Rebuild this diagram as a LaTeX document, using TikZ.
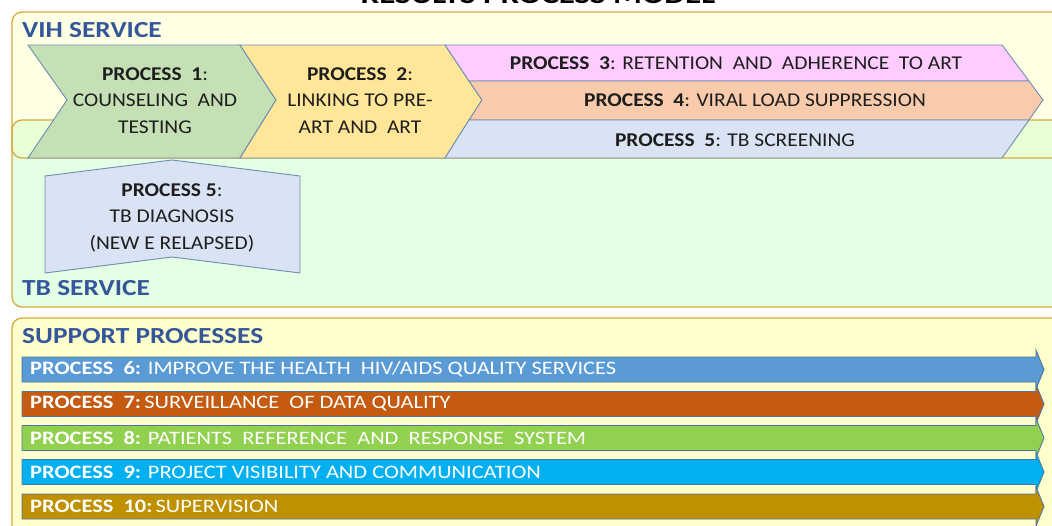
\documentclass[tikz,border=0pt]{standalone}
\usepackage{fontspec}
\setmainfont{Carlito}
\newfontfamily\procfont[FakeStretch=1.1]{Carlito}
\newfontfamily\barfont[FakeStretch=1.18]{Carlito}
\newfontfamily\headfont[FakeStretch=1.19]{Carlito}
\newfontfamily\titlefont[FakeStretch=1.27]{Carlito}
\begin{document}
\definecolor{panelgold}{HTML}{D2AA3C}
\definecolor{vihfill}{HTML}{FFFFE3}
\definecolor{tbfill}{HTML}{E5FFE5}
\definecolor{mixfill}{HTML}{E9FFD6}
\definecolor{supfill}{HTML}{FFFFCC}
\definecolor{headblue}{HTML}{34569A}
\definecolor{chevline}{HTML}{6B8DB0}
\definecolor{pone}{HTML}{C5E0B4}
\definecolor{ptwo}{HTML}{FFE699}
\definecolor{pthree}{HTML}{FFCCFF}
\definecolor{pfour}{HTML}{F8CBAD}
\definecolor{pfive}{HTML}{DAE3F3}
\definecolor{psix}{HTML}{5B9BD5}
\definecolor{pseven}{HTML}{C55A11}
\definecolor{peight}{HTML}{92D050}
\definecolor{pnine}{HTML}{00B0F0}
\definecolor{pten}{HTML}{BF9000}
\definecolor{barline}{HTML}{4E78A4}
\definecolor{ptext}{HTML}{1E1E1E}
\begin{tikzpicture}[x=1pt,y=-1pt,
  panel/.style={draw=panelgold,line width=1.3pt,rounded corners=10pt},
  chev/.style={draw=chevline,line width=0.9pt},
  bararrow/.style={draw=barline,line width=0.9pt},
  heading/.style={text=headblue,font=\headfont\fontsize{23}{27}\selectfont\bfseries,anchor=west,inner sep=0pt},
  ptxt/.style={text=ptext,font=\procfont\fontsize{19.5}{26.5}\selectfont,align=center,inner sep=0pt},
  bartxt/.style={text=white,font=\barfont\fontsize{19}{22}\selectfont,anchor=west,inner sep=0pt},
  title/.style={text=black,font=\titlefont\fontsize{26}{30}\selectfont\bfseries,anchor=base,inner sep=0pt}
]
\useasboundingbox (0,0) rectangle (1052,525);
\fill[white] (0,0) rectangle (1052,525);

% title line, mostly above the page edge
\node[title] (title) at (538,3) {RESULTS PROCESS MODEL};

% service panels
\fill[vihfill,rounded corners=10pt] (12,12) rectangle (1075,158);
\fill[tbfill,rounded corners=10pt] (12,120) rectangle (1075,307);
\begin{scope}
  \clip[rounded corners=10pt] (12,12) rectangle (1075,158);
  \fill[mixfill,rounded corners=10pt] (12,120) rectangle (1075,307);
\end{scope}
\draw[panel] (12,12) rectangle (1075,158);
\draw[panel] (12,120) rectangle (1075,307);
\fill[supfill,rounded corners=10pt] (12,318) rectangle (1075,545);
\draw[panel] (12,318) rectangle (1075,545);

\node[heading] (vih) at (22,30) {VIH SERVICE};
\node[heading] (tb) at (22,288) {TB SERVICE};
\node[heading] (sup) at (22,336) {SUPPORT PROCESSES};

% main process chevrons
\draw[chev,fill=pone] (28,45) -- (240,45) -- (276,100) -- (240,158) -- (28,158) -- (67,100) -- cycle;
\draw[chev,fill=ptwo] (240,45) -- (445,45) -- (482,100) -- (445,158) -- (240,158) -- (276,100) -- cycle;
\draw[chev,fill=pthree] (445,45) -- (1002,45) -- (1029,81) -- (469,81) -- cycle;
\draw[chev,fill=pfour] (469,81) -- (1029,81) -- (1043,100) -- (1029,120) -- (469,120) -- (482,100) -- cycle;
\draw[chev,fill=pfive] (469,120) -- (1029,120) -- (1002,158) -- (445,158) -- cycle;

\node[ptxt] (p1) at (155,100.5) {\textbf{PROCESS~ 1}:\\COUNSELING~ AND\\TESTING};
\node[ptxt] (p2) at (360,100.5) {\textbf{PROCESS~ 2}:\\LINKING TO PRE-\\ART AND~ ART};
\node[ptxt] (p3) at (736,63.5) {\textbf{PROCESS~ 3}: RETENTION~ AND~ ADHERENCE~ TO ART};
\node[ptxt] (p4) at (755,100.5) {\textbf{PROCESS~ 4}: VIRAL LOAD SUPPRESSION};
\node[ptxt] (p5) at (735,140) {\textbf{PROCESS~ 5}: TB SCREENING};

% TB diagnosis block
\draw[chev,fill=pfive] (45,176) -- (172,160) -- (300,176) -- (300,273) -- (172,257) -- (45,273) -- cycle;
\node[ptxt] (p5b) at (172,217.5) {\textbf{PROCESS 5}:\\TB DIAGNOSIS\\(NEW E RELAPSED)};

% support process arrows
\foreach \t/\c in {357/psix,391.5/pseven,425.5/peight,459.5/pnine,494/pten}{
  \draw[bararrow,fill=\c] (22,\t) -- (1036,\t) -- (1036,\t-7) -- (1044,\t+12.5)
     -- (1036,\t+32) -- (1036,\t+25) -- (22,\t+25) -- cycle;
}
\node[bartxt] (b6) at (30,369.5) {\textbf{PROCESS~ 6:} IMPROVE THE HEALTH~ HIV/AIDS QUALITY SERVICES};
\node[bartxt] (b7) at (30,404) {\textbf{PROCESS~ 7:}\,SURVEILLANCE~ OF DATA QUALITY};
\node[bartxt] (b8) at (30,438) {\textbf{PROCESS~ 8:} PATIENTS~ REFERENCE~ AND~ RESPONSE~ SYSTEM};
\node[bartxt] (b9) at (30,472) {\textbf{PROCESS~ 9:} PROJECT VISIBILITY AND COMMUNICATION};
\node[bartxt] (b10) at (30,506.5) {\textbf{PROCESS~ 10:}\,SUPERVISION};
\end{tikzpicture}
\end{document}
